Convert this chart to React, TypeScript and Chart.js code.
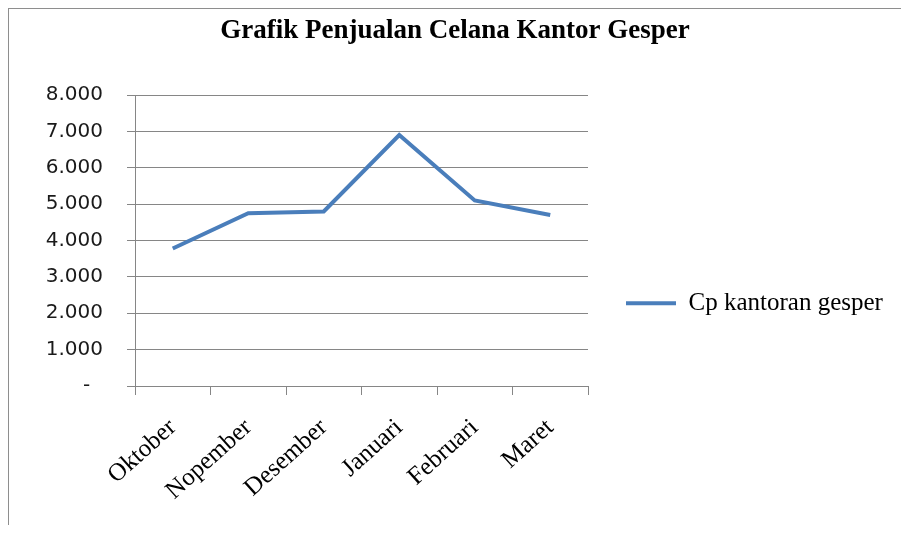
import React, { useEffect, useRef } from 'react';
import { Chart, registerables } from 'chart.js';

Chart.register(...registerables);

const chartTitle = 'Grafik Penjualan Celana Kantor Gesper';
const categories = ['Oktober', 'Nopember', 'Desember', 'Januari', 'Februari', 'Maret'];
const seriesName = 'Cp kantoran gesper';
const seriesValues = [3780, 4750, 4800, 6900, 5100, 4700];
const yMin = 0;
const yMax = 8000;
const yStep = 1000;

function formatTick(v: number): string {
  if (v === 0) return '-  ';
  const th = Math.floor(v / 1000);
  const rest = v % 1000;
  return th > 0 ? th + '.' + String(rest).padStart(3, '0') : String(rest);
}

const CANVAS_W = 892;
const CANVAS_H = 516;
const LEGEND_W = 313;
const GRID = '#868686';
const LINE = '#4a7ebb';

export default function App() {
  const ref = useRef<HTMLCanvasElement | null>(null);

  useEffect(() => {
    if (!ref.current) return;
    const chart = new Chart(ref.current, {
      type: 'line',
      data: {
        labels: categories,
        datasets: [
          {
            label: seriesName,
            data: seriesValues,
            borderColor: LINE,
            backgroundColor: LINE,
            borderWidth: 4,
            pointRadius: 0,
            pointHoverRadius: 0,
            tension: 0,
            fill: false,
          },
        ],
      },
      options: {
        responsive: false,
        animation: false,
        layout: { padding: 0 },
        plugins: {
          title: {
            display: true,
            text: chartTitle,
            color: '#000',
            font: { family: 'Liberation Serif', size: 27, weight: 'bold' },
            padding: { top: 6, bottom: 47.6 },
          },
          legend: {
            display: true,
            position: 'right',
            title: { display: true, text: ' ', padding: 29, font: { size: 12 } },
            labels: {
              color: '#000',
              font: { family: 'Liberation Serif', size: 25 },
              boxWidth: 50,
              boxHeight: 4,
              padding: 38,
              generateLabels: () => [
                {
                  text: seriesName,
                  fillStyle: LINE,
                  strokeStyle: LINE,
                  lineWidth: 0,
                  hidden: false,
                  datasetIndex: 0,
                  fontColor: '#000',
                },
              ],
            },
          },
          tooltip: { enabled: false },
        },
        scales: {
          x: {
            type: 'category',
            offset: true,
            grid: {
              offset: true,
              drawOnChartArea: false,
              drawTicks: true,
              tickLength: 9,
              color: GRID,
            },
            border: { display: true, color: GRID },
            ticks: {
              minRotation: 42,
              maxRotation: 42,
              autoSkip: false,
              color: '#000',
              font: { family: 'Liberation Serif', size: 25 },
              padding: 18,
            },
            afterFit: (scale: any) => {
              scale.height = CANVAS_H - 377;
            },
          },
          y: {
            min: yMin,
            max: yMax,
            grid: { color: GRID, tickLength: 8, drawTicks: true },
            border: { display: true, color: GRID },
            ticks: {
              stepSize: yStep,
              color: '#1a1a1a',
              font: { family: 'DejaVu Sans', size: 20 },
              padding: 24,
              callback: (v: any) => formatTick(Number(v)),
            },
            afterFit: (scale: any) => {
              scale.width = 126;
            },
          },
        },
      },
    });
    const lg: any = (chart as any).legend;
    if (lg) {
      const origFit = lg.fit.bind(lg);
      lg.fit = () => {
        origFit();
        lg.width = LEGEND_W;
      };
      chart.update();
    }
    return () => chart.destroy();
  }, []);

  return (
    <div
      style={{
        width: CANVAS_W,
        height: CANVAS_H,
        borderLeft: '1px solid #8e8e8e',
        borderTop: '1px solid #8e8e8e',
        background: '#fff',
      }}
    >
      <canvas
        ref={ref}
        width={CANVAS_W}
        height={CANVAS_H}
        style={{ display: 'block', width: CANVAS_W, height: CANVAS_H }}
      />
    </div>
  );
}
